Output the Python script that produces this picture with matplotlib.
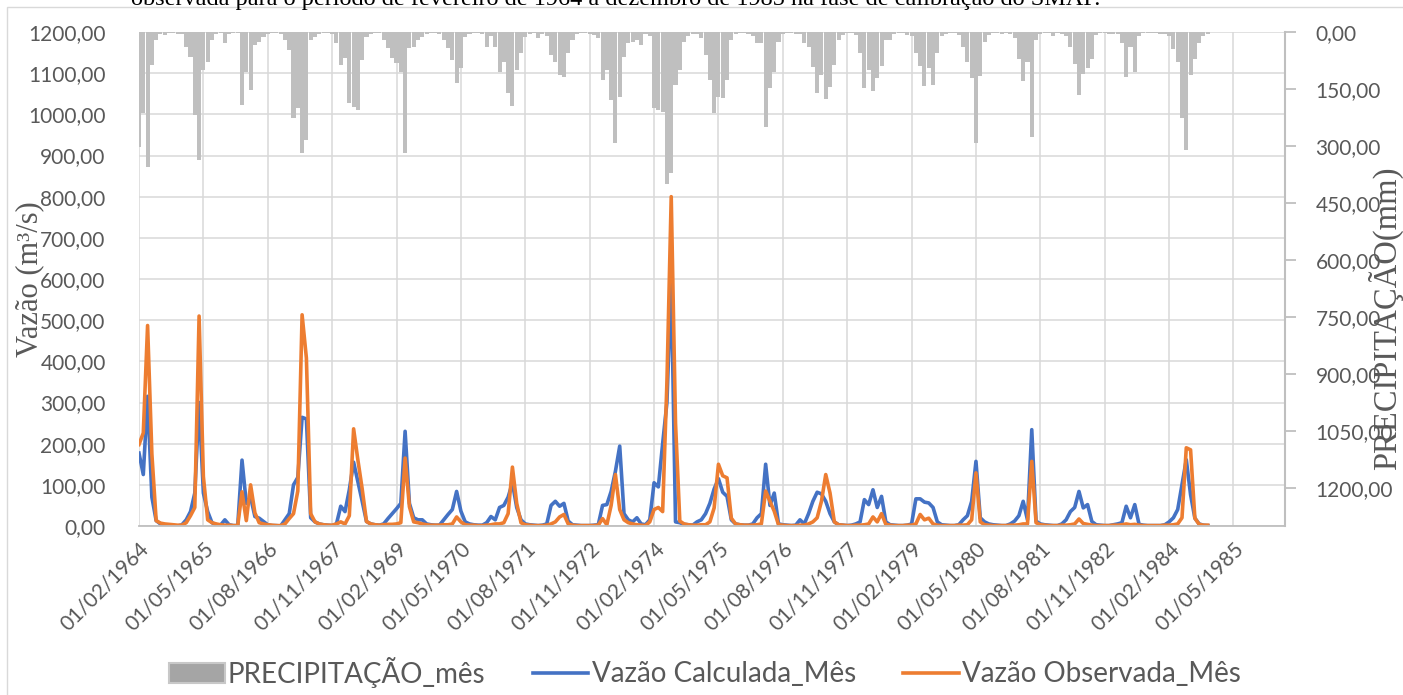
import matplotlib
matplotlib.use("Agg")
import matplotlib.pyplot as plt
import matplotlib.transforms as mtransforms
import numpy as np
from matplotlib.patches import Patch, Rectangle
from matplotlib.lines import Line2D

plt.rcParams['font.family'] = ['Lato', 'DejaVu Sans']

# monthly series, Feb/1964 onwards (one row = Feb..Jan)
precip_mm = [
    302, 214, 354, 87, 20, 5, 8, 3, 2, 5, 4, 39,
    65, 218, 337, 100, 79, 20, 5, 3, 30, 4, 3, 3,
    192, 104, 153, 34, 26, 13, 5, 3, 2, 4, 20, 47,
    226, 200, 319, 284, 21, 13, 5, 3, 2, 5, 30, 87,
    69, 188, 197, 205, 74, 13, 5, 3, 2, 20, 43, 69,
    82, 104, 319, 43, 39, 22, 13, 4, 3, 2, 5, 20,
    43, 74, 134, 96, 13, 5, 3, 2, 4, 39, 10, 40,
    105, 80, 161, 196, 100, 54, 12, 4, 3, 17, 5, 10,
    61, 78, 113, 118, 56, 21, 5, 3, 2, 4, 8, 15,
    126, 100, 179, 293, 170, 65, 30, 26, 20, 34, 4, 10,
    200, 205, 210, 400, 370, 140, 100, 25, 10, 5, 4, 15,
    60, 126, 214, 170, 174, 126, 21, 5, 3, 2, 5, 10,
    28, 30, 250, 148, 105, 25, 5, 3, 2, 4, 5, 30,
    40, 92, 160, 112, 176, 144, 88, 22, 8, 3, 2, 8,
    55, 148, 100, 155, 122, 90, 20, 20, 5, 3, 2, 8,
    10, 55, 90, 142, 95, 140, 55, 10, 4, 3, 2, 8,
    40, 80, 122, 292, 115, 25, 8, 3, 2, 4, 3, 5,
    15, 72, 128, 78, 276, 22, 5, 3, 2, 10, 3, 5,
    10, 40, 85, 166, 110, 95, 70, 8, 3, 2, 4, 5,
    5, 30, 118, 40, 104, 10, 3, 2, 2, 3, 4, 5,
    10, 45, 78, 225, 310, 112, 70, 30, 10, 5,
]

vazao_calc = [
    177, 125, 315, 70, 13, 5, 2, 1, 1, 0, 3, 15,
    35, 80, 300, 80, 35, 8, 3, 2, 15, 3, 1, 1,
    160, 55, 70, 23, 19, 11, 3, 1, 1, 0, 15, 30,
    100, 118, 264, 260, 20, 10, 5, 3, 2, 1, 5, 48,
    35, 88, 155, 108, 60, 11, 5, 3, 2, 5, 18, 30,
    42, 55, 230, 55, 20, 15, 15, 5, 3, 2, 2, 15,
    28, 40, 84, 36, 10, 5, 3, 2, 2, 8, 23, 15,
    45, 50, 70, 105, 45, 15, 5, 3, 2, 1, 2, 5,
    50, 60, 48, 55, 12, 3, 2, 1, 1, 1, 2, 3,
    50, 52, 84, 133, 194, 30, 15, 10, 20, 5, 3, 15,
    105, 95, 200, 300, 600, 10, 8, 4, 3, 2, 10, 15,
    30, 55, 90, 115, 82, 72, 15, 5, 3, 2, 2, 5,
    20, 30, 150, 50, 80, 5, 3, 2, 1, 2, 15, 5,
    30, 60, 82, 78, 60, 30, 10, 3, 2, 1, 2, 5,
    10, 64, 52, 88, 45, 72, 10, 3, 2, 1, 1, 2,
    5, 66, 66, 58, 56, 45, 10, 3, 2, 1, 1, 3,
    15, 25, 60, 157, 20, 10, 5, 3, 2, 1, 1, 5,
    12, 25, 60, 15, 234, 12, 5, 3, 2, 1, 1, 5,
    15, 35, 45, 84, 44, 52, 11, 3, 2, 1, 1, 3,
    5, 8, 48, 20, 52, 4, 2, 1, 1, 1, 1, 3,
    10, 20, 40, 100, 161, 76, 19, 5, 2, 1,
]

vazao_obs = [
    198, 226, 487, 175, 13, 7, 5, 4, 3, 2, 2, 8,
    25, 45, 510, 120, 15, 8, 5, 3, 2, 2, 1, 1,
    83, 13, 100, 32, 8, 5, 3, 2, 1, 1, 5, 18,
    30, 85, 513, 408, 30, 10, 5, 3, 2, 2, 5, 10,
    5, 25, 236, 160, 90, 11, 5, 3, 2, 3, 4, 4,
    5, 8, 165, 47, 10, 8, 5, 3, 2, 2, 2, 3,
    3, 5, 22, 10, 3, 2, 2, 1, 1, 2, 3, 5,
    5, 8, 30, 143, 55, 8, 3, 2, 1, 1, 1, 2,
    5, 10, 22, 28, 5, 2, 1, 1, 1, 1, 1, 2,
    18, 3, 50, 125, 40, 15, 8, 5, 3, 2, 1, 10,
    40, 45, 35, 350, 800, 250, 12, 5, 3, 2, 2, 3,
    3, 10, 44, 150, 122, 117, 19, 5, 3, 2, 2, 2,
    3, 5, 85, 60, 36, 3, 2, 1, 1, 1, 2, 2,
    5, 10, 20, 60, 125, 80, 10, 3, 2, 1, 1, 2,
    2, 3, 5, 22, 10, 30, 4, 2, 1, 1, 1, 2,
    2, 5, 28, 15, 19, 5, 2, 1, 1, 1, 1, 2,
    2, 3, 15, 129, 10, 3, 2, 1, 1, 1, 1, 2,
    2, 3, 5, 5, 157, 8, 3, 2, 1, 1, 1, 2,
    2, 3, 5, 17, 6, 4, 2, 1, 1, 1, 1, 2,
    2, 3, 5, 3, 4, 2, 1, 1, 1, 1, 1, 2,
    2, 3, 5, 20, 190, 185, 19, 4, 2, 2,
]

date_labels = ['01/02/1964', '01/05/1965', '01/08/1966', '01/11/1967',
               '01/02/1969', '01/05/1970', '01/08/1971', '01/11/1972',
               '01/02/1974', '01/05/1975', '01/08/1976', '01/11/1977',
               '01/02/1979', '01/05/1980', '01/08/1981', '01/11/1982',
               '01/02/1984', '01/05/1985']
n_categories = 268   # months on the category axis
label_step = 15

title_txt = ('observada para o período de fevereiro de 1964 a dezembro de 1985 '
             'na fase de calibração do SMAP.')

W, H = 1403, 695
fig = plt.figure(figsize=(W / 100, H / 100), dpi=100)
ax = fig.add_axes([139 / W, 1 - 526 / H, (1285 - 139) / W, (526 - 32) / H])

x = np.arange(len(precip_mm))
grey_txt = '#595959'

ax.plot(x, vazao_calc, color='#4472C4', lw=2.6, solid_joinstyle='round')
ax.plot(x, vazao_obs, color='#ED7D31', lw=2.6, solid_joinstyle='round')

ax.set_xlim(0, n_categories - 1)
ax.set_ylim(0, 1200)
ax.set_yticks(np.arange(0, 1201, 100))
ax.set_yticklabels([f'{v:.2f}'.replace('.', ',') for v in np.arange(0, 1201, 100)])
ax.set_xticks(np.arange(0, len(date_labels) * label_step, label_step))
ax.set_xticklabels(date_labels, rotation=45, ha='right', va='top',
                   rotation_mode='anchor')
shift = mtransforms.ScaledTranslation(6 / 100, 0, fig.dpi_scale_trans)
for lab in ax.get_xticklabels():
    lab.set_transform(lab.get_transform() + shift)
ax.grid(True, color='#d9d9d9', lw=1.1)
ax.set_axisbelow(True)
ax.tick_params(axis='y', length=0, pad=24, labelsize=15, labelcolor=grey_txt)
ax.tick_params(axis='x', length=0, pad=9, labelsize=15, labelcolor=grey_txt)
for s in ['left', 'top', 'right']:
    ax.spines[s].set_visible(False)
ax.spines['bottom'].set_color('#bfbfbf')
ax.spines['bottom'].set_linewidth(1.3)

fig.text(30 / W, 1 - 279 / H, 'Vazão (m³/s)', rotation=90,
         family='Liberation Serif', fontsize=22, color=grey_txt,
         ha='center', va='center')

# precipitation on the secondary (reversed) axis
ax2 = ax.twinx()
ax2.bar(x, precip_mm, width=0.95, color='#bfbfbf', linewidth=0)
ax2.set_ylim(1300, 0)
rticks = np.arange(0, 1201, 150)
ax2.set_yticks(rticks)
ax2.set_yticklabels([f'{v:.2f}'.replace('.', ',') for v in rticks])
ax2.tick_params(axis='y', length=8, width=1.3, color='#bfbfbf', pad=14,
                labelsize=15, labelcolor=grey_txt)
for s in ['left', 'top', 'bottom']:
    ax2.spines[s].set_visible(False)
ax2.spines['right'].set_color('#bfbfbf')
ax2.spines['right'].set_linewidth(1.5)

fig.text(1385 / W, 1 - 318 / H, 'PRECIPITAÇÃO(mm)', rotation=90,
         family='Liberation Serif', fontsize=23.5, color=grey_txt,
         ha='center', va='center')

fig.text(616 / W, 1 - 5 / H, title_txt, family='Liberation Serif',
         fontsize=17.5, color='black', ha='center', va='baseline')

handles = [Patch(facecolor='#a5a5a5', edgecolor='#c8c8c8', lw=1.5),
           Line2D([], [], color='#4472C4', lw=2.6),
           Line2D([], [], color='#ED7D31', lw=2.6)]
labels = ['PRECIPITAÇÃO_mês', 'Vazão Calculada_Mês', 'Vazão Observada_Mês']
fig.legend(handles, labels, loc='center', bbox_to_anchor=(705 / W, 1 - 672 / H),
           ncol=3, frameon=False, fontsize=20, handlelength=2.0,
           handletextpad=0.12, columnspacing=1.7, labelcolor=grey_txt)

# chart area border (only left/top visible in the crop)
fig.add_artist(Rectangle((7 / W, -0.05), 1.0, 1.05 - 7 / H,
                         transform=fig.transFigure, fill=False,
                         edgecolor='#d9d9d9', lw=1.0))

fig.savefig('out.png', dpi=100)
